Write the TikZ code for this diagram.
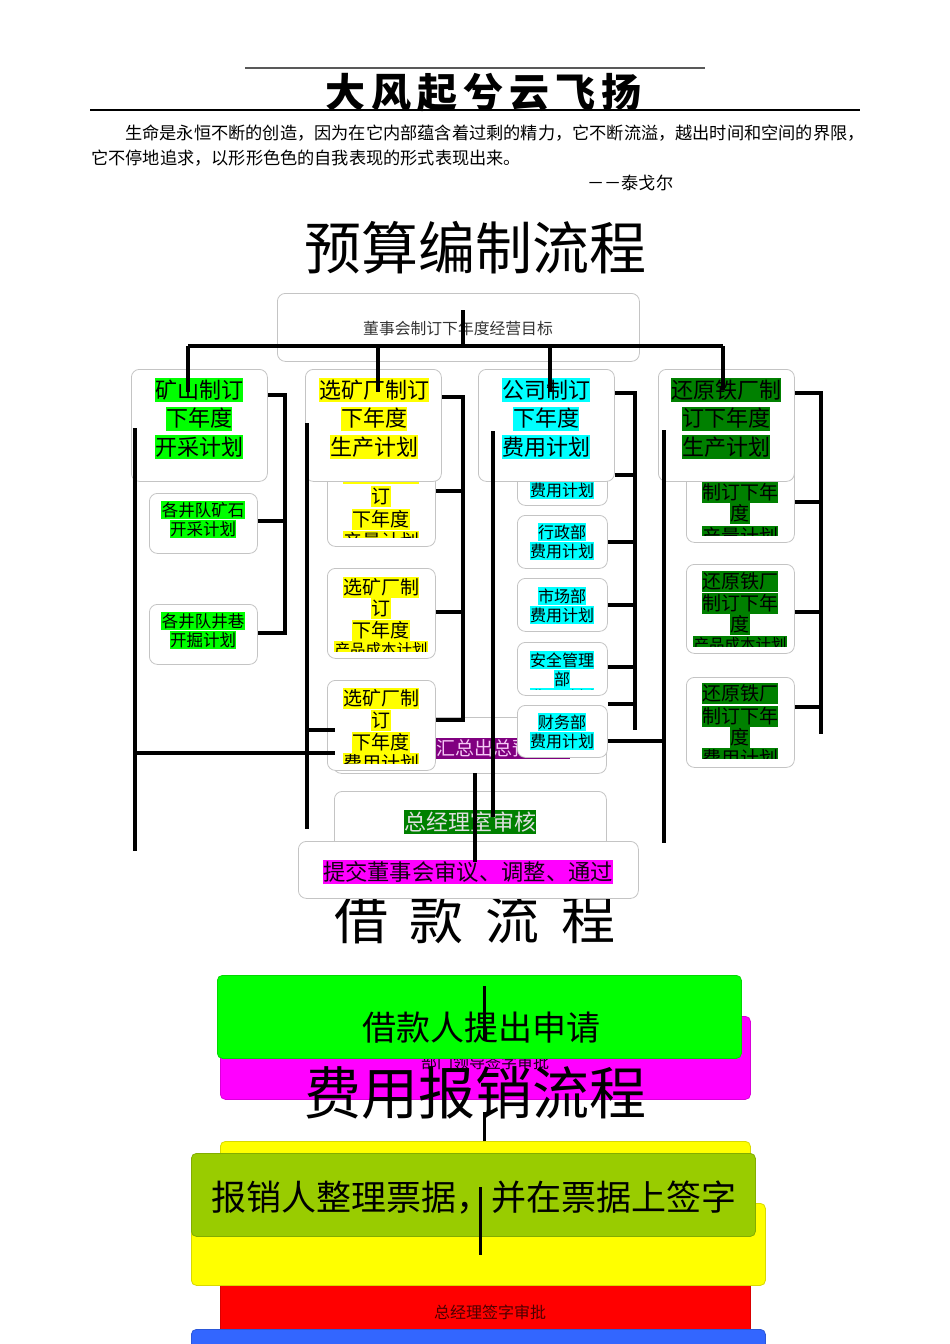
\documentclass[tikz,border=0pt]{standalone}
\usepackage{fontspec}
\setmainfont{Noto Sans CJK SC}
\definecolor{boxgray}{HTML}{C4C4C4}
\definecolor{hlgreen}{HTML}{00FF00}
\definecolor{hlyellow}{HTML}{FFFF00}
\definecolor{hlcyan}{HTML}{00FFFF}
\definecolor{hldark}{HTML}{008000}
\definecolor{hlpurple}{HTML}{800080}
\definecolor{hlmag}{HTML}{FF00FF}
\definecolor{lpink}{HTML}{F6C8F6}
\definecolor{oliveb}{HTML}{99CC00}
\definecolor{blueb}{HTML}{3366FF}
\definecolor{redb}{HTML}{FF0000}
\tikzset{
  gbox/.style={draw=boxgray, fill=white, line width=0.8pt, rounded corners=8pt},
  cbox/.style={fill=#1, draw=#1!85!black, line width=0.8pt, rounded corners=5pt},
  wire/.style={line width=3.6pt, black},
  thinwire/.style={line width=3pt, black},
  hl/.style 2 args={fill=#1, font=\fontsize{#2}{#2}\selectfont, text height={0.88*#2}, text depth={0.12*#2}, inner xsep=0.3pt, inner ysep=1pt},
  txt/.style={font=\fontsize{#1}{#1}\selectfont, inner sep=0pt, text height={0.88*#1}, text depth={0.12*#1}}
}
\newcommand\bxn[6]{\node[#1,anchor=north west,inner sep=0pt,minimum width={(#5-#3)*1pt},minimum height={(#6-#4)*1pt}] (#2) at (#3,#4) {};}
\begin{document}
\begin{tikzpicture}[x=1pt,y=-1pt]
\useasboundingbox (0,0) rectangle (950,1344);
\fill[white] (0,0) rectangle (950,1344);

% ---------- header ----------
\coordinate (hla) at (245,68); \coordinate (hlb) at (705,68);
\coordinate (hlc) at (90,110); \coordinate (hld) at (860,110);
\draw[line width=1.8pt, black!65] (hla) -- (hlb);
\node[txt=40] (head) at (483,92) {\bfseries 大\hspace{6pt}风\hspace{6pt}起\hspace{6pt}兮\hspace{6pt}云\hspace{6pt}飞\hspace{6pt}扬};
\draw[line width=2pt, black] (hlc) -- (hld);
\node[txt=17.2, anchor=west] (p1) at (125,133) {生命是永恒不断的创造，因为在它内部蕴含着过剩的精力，它不断流溢，越出时间和空间的界限，};
\node[txt=17.2, anchor=west] (p2) at (91,158) {它不停地追求，以形形色色的自我表现的形式表现出来。};
\node[txt=17.2, anchor=west] (p3) at (587,183) {－－泰戈尔};

\node[txt=57] (t1) at (475,248) {预算编制流程};

% ---------- top box ----------
\bxn{gbox}{top}{277}{293}{639}{361}
\node[txt=15.8, text=black!80] (topt) at (458,328) {董事会制订下年度经营目标};

% ---------- summary box (behind) ----------
\bxn{gbox}{hz}{333}{717}{606}{773}
\node[hl={hlpurple}{19}, text=lpink] (hzt) at (503,748) {汇总出总预算表};

% ---------- group 1 sub boxes ----------
\bxn{gbox}{s11}{149}{493}{257}{553}
\node[hl={hlgreen}{16.5}] (s11a) at (203,510) {各井队矿石};
\node[hl={hlgreen}{16.5}] (s11b) at (203,529) {开采计划};
\bxn{gbox}{s12}{149}{604}{257}{664}
\node[hl={hlgreen}{16.5}] (s12a) at (203,621) {各井队井巷};
\node[hl={hlgreen}{16.5}] (s12b) at (203,640) {开掘计划};

% ---------- group 2 sub boxes ----------
\bxn{gbox}{s21}{327}{452}{435}{546}
\begin{scope}
\clip (320,440) rectangle (440,537);
\node[hl={hlyellow}{19}] (s21a) at (381,473) {选矿厂制};
\node[hl={hlyellow}{19}] (s21b) at (381,496) {订};
\node[hl={hlyellow}{19}] (s21c) at (381,519) {下年度};
\node[hl={hlyellow}{19}] (s21d) at (381,541) {产量计划};
\end{scope}
\bxn{gbox}{s22}{327}{568}{435}{658}
\begin{scope}
\clip (320,560) rectangle (440,651);
\node[hl={hlyellow}{19}] (s22a) at (381,587) {选矿厂制};
\node[hl={hlyellow}{19}] (s22b) at (381,608) {订};
\node[hl={hlyellow}{19}] (s22c) at (381,630) {下年度};
\node[hl={hlyellow}{15.5}] (s22d) at (381,650) {产品成本计划};
\end{scope}
\bxn{gbox}{s23}{327}{680}{435}{770}
\begin{scope}
\clip (320,672) rectangle (440,763);
\node[hl={hlyellow}{19}] (s23a) at (381,698) {选矿厂制};
\node[hl={hlyellow}{19}] (s23b) at (381,720) {订};
\node[hl={hlyellow}{19}] (s23c) at (381,742) {下年度};
\node[hl={hlyellow}{19}] (s23d) at (381,763) {费用计划};
\end{scope}

% ---------- group 3 sub boxes ----------
\bxn{gbox}{s31}{517}{455}{607}{505}
\node[hl={hlcyan}{16}] (s31a) at (562,490) {费用计划};
\bxn{gbox}{s32}{517}{515}{607}{568}
\node[hl={hlcyan}{16}] (s32a) at (562,532) {行政部};
\node[hl={hlcyan}{16}] (s32b) at (562,551) {费用计划};
\bxn{gbox}{s33}{517}{578}{607}{631}
\node[hl={hlcyan}{16}] (s33a) at (562,596) {市场部};
\node[hl={hlcyan}{16}] (s33b) at (562,615) {费用计划};
\bxn{gbox}{s34}{517}{642}{607}{695}
\begin{scope}
\clip (510,635) rectangle (612,689);
\node[hl={hlcyan}{16}] (s34a) at (562,660) {安全管理};
\node[hl={hlcyan}{16}] (s34b) at (562,679) {部};
\node[hl={hlcyan}{16}] (s34c) at (562,697) {费用计划};
\end{scope}
\bxn{gbox}{s35}{517}{705}{607}{757}
\node[hl={hlcyan}{16}] (s35a) at (562,722) {财务部};
\node[hl={hlcyan}{16}] (s35b) at (562,741) {费用计划};

% ---------- group 4 sub boxes ----------
\bxn{gbox}{s41}{686}{452}{794}{542}
\begin{scope}
\clip (680,440) rectangle (800,535);
\node[hl={hldark}{19}] (s41a) at (740,471) {还原铁厂};
\node[hl={hldark}{19}] (s41b) at (740,492) {制订下年};
\node[hl={hldark}{19}] (s41c) at (740,513) {度};
\node[hl={hldark}{19}] (s41d) at (740,536) {产量计划};
\end{scope}
\bxn{gbox}{s42}{686}{564}{794}{653}
\begin{scope}
\clip (680,556) rectangle (800,646);
\node[hl={hldark}{19}] (s42a) at (740,581) {还原铁厂};
\node[hl={hldark}{19}] (s42b) at (740,603) {制订下年};
\node[hl={hldark}{19}] (s42c) at (740,624) {度};
\node[hl={hldark}{15.5}] (s42d) at (740,645) {产品成本计划};
\end{scope}
\bxn{gbox}{s43}{686}{677}{794}{767}
\begin{scope}
\clip (680,670) rectangle (800,758);
\node[hl={hldark}{19}] (s43a) at (740,693) {还原铁厂};
\node[hl={hldark}{19}] (s43b) at (740,716) {制订下年};
\node[hl={hldark}{19}] (s43c) at (740,737) {度};
\node[hl={hldark}{19}] (s43d) at (740,758) {费用计划};
\end{scope}

% ---------- group boxes ----------
\bxn{gbox}{g1}{131}{369}{267}{481}
\node[hl={hlgreen}{22}] (g1a) at (199,390) {矿山制订};
\node[hl={hlgreen}{22}] (g1b) at (199,418.5) {下年度};
\node[hl={hlgreen}{22}] (g1c) at (199,447) {开采计划};
\bxn{gbox}{g2}{305}{369}{441}{481}
\node[hl={hlyellow}{22}] (g2a) at (374,390) {选矿厂制订};
\node[hl={hlyellow}{22}] (g2b) at (374,418.5) {下年度};
\node[hl={hlyellow}{22}] (g2c) at (374,447) {生产计划};
\bxn{gbox}{g3}{478}{369}{614}{481}
\node[hl={hlcyan}{22}] (g3a) at (546,390) {公司制订};
\node[hl={hlcyan}{22}] (g3b) at (546,418.5) {下年度};
\node[hl={hlcyan}{22}] (g3c) at (546,447) {费用计划};
\bxn{gbox}{g4}{658}{369}{794}{481}
\node[hl={hldark}{22}] (g4a) at (726,390) {还原铁厂制};
\node[hl={hldark}{22}] (g4b) at (726,418.5) {订下年度};
\node[hl={hldark}{22}] (g4c) at (726,447) {生产计划};

% ---------- final boxes of chart 1 ----------
\node[txt=54] (t2) at (475,919) {借\hspace{22pt}款\hspace{22pt}流\hspace{22pt}程};
\bxn{gbox}{zj}{334}{791}{606}{855}
\node[hl={hldark}{22}, text=black!12] (zjt) at (470,822) {总经理室审核};
\bxn{gbox}{tj}{298}{841}{638}{898}
\node[hl={hlmag}{22.3}, text=black!85!hlpurple] (tjt) at (468,872) {提交董事会审议、调整、通过};

% ---------- wires chart 1 ----------
\coordinate (c0) at (463,310);
\coordinate (hL) at (188,346); \coordinate (hR) at (723,346);
\draw[wire] (c0) -- (463,348);
\draw[wire] (hL) -- (hR);
\draw[wire] (hL) -- (188,392);
\draw[wire] (378,346) -- (378,392);
\draw[wire] (550,346) -- (550,392);
\draw[wire] (hR) -- (723,390);
% group 1
\draw[wire] (g1.east |- 0,395) -- (285,395) -- (285,633) -- (s12.east |- 0,633);
\draw[wire] (s11.east |- 0,521) -- (285,521);
\draw[wire] (135,428) -- (135,851);
\draw[wire] (135,753) -- (335,753);
% group 2
\draw[wire] (g2.east |- 0,397) -- (463,397) -- (463,720) -- (s23.east |- 0,720);
\draw[wire] (s21.east |- 0,491) -- (463,491);
\draw[wire] (s22.east |- 0,612) -- (463,612);
\draw[wire] (307,423) -- (307,829);
\draw[wire] (307,730) -- (335,730);
% group 3
\draw[wire] (g3.east |- 0,393) -- (635,393) -- (635,730);
\draw[wire] (g3.east |- 0,475) -- (635,475);
\draw[wire] (s32.east |- 0,542) -- (635,542);
\draw[wire] (s33.east |- 0,605) -- (635,605);
\draw[wire] (s34.east |- 0,667) -- (635,667);
\draw[wire] (s35.east |- 0,704) -- (635,704);
\draw[wire] (493,431) -- (493,817);
\draw[wire] (s35.east |- 0,741) -- (664,741);
% group 4
\draw[wire] (g4.east |- 0,393) -- (821,393) -- (821,734);
\draw[wire] (s41.east |- 0,502) -- (821,502);
\draw[wire] (s42.east |- 0,612) -- (821,612);
\draw[wire] (s43.east |- 0,707) -- (821,707);
\draw[wire] (664,430) -- (664,843);
% bottom
\draw[wire] (475,773) -- (475,862);

% ---------- chart 2 ----------
\bxn{cbox=hlmag}{bm}{220}{1016}{750}{1099}
\node[txt=16, text=black!85!hlpurple] (bmt) at (485,1062) {部门领导签字审批};
\bxn{cbox=hlgreen}{bg}{217}{975}{741}{1058}
\node[txt=34] (bgt) at (481,1028) {借款人提出申请};
\node[txt=57] (t3) at (475,1093) {费用报销流程};
\draw[thinwire] (484,986) -- (484,1040);
\draw[thinwire] (484,1112) -- (484,1141);

% ---------- chart 3 ----------
\bxn{cbox=hlyellow}{y1}{220}{1141}{750}{1215}
\bxn{cbox=redb}{rd}{220}{1280}{750}{1335}
\node[txt=16, text=black!70!red] (rdt) at (490,1312) {总经理签字审批};
\bxn{cbox=hlyellow}{y2}{191}{1203}{765}{1285}
\bxn{cbox=oliveb}{ol}{191}{1153}{755}{1236}
\node[txt=35] (olt) at (474,1197) {报销人整理票据，并在票据上签字};
\bxn{cbox=blueb}{bl}{191}{1329}{765}{1420}
\node[txt=16] (blt) at (488,1353) {财务负责人审核签字};
\draw[thinwire] (480,1187) -- (480,1255);
\end{tikzpicture}
\end{document}
